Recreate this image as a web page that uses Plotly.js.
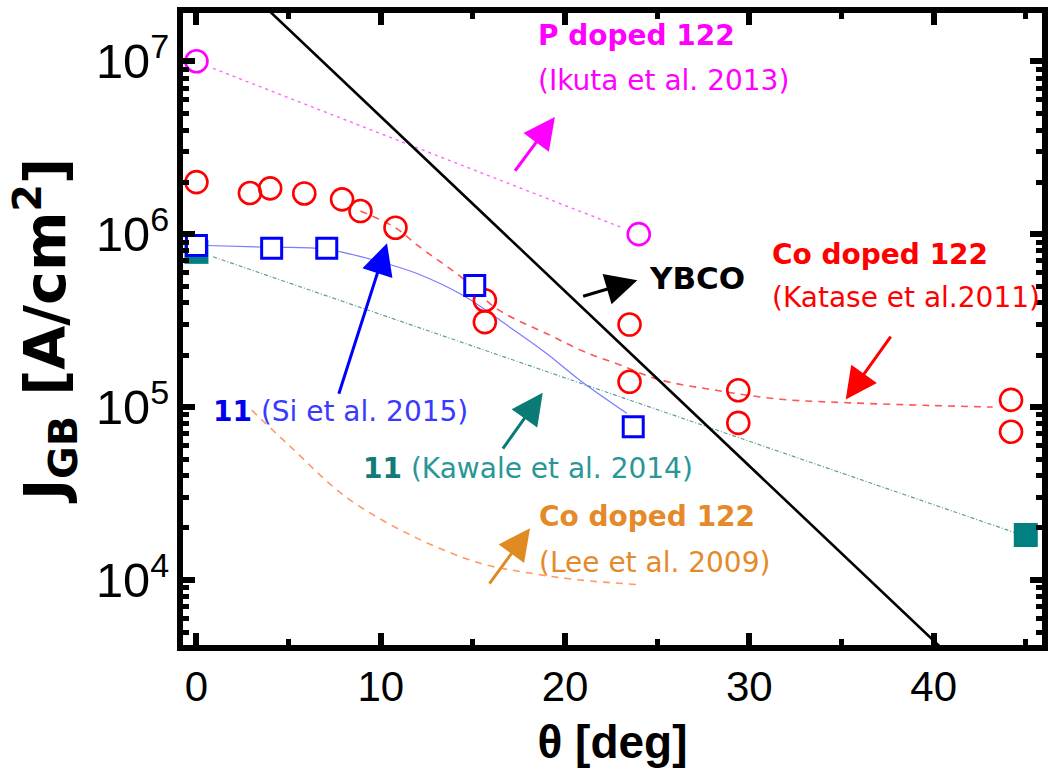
<!DOCTYPE html>
<html>
<head>
<meta charset="utf-8">
<script src="https://cdn.plot.ly/plotly-3.0.1.min.js"></script>
<style>html,body{margin:0;padding:0;background:#fff;}#chart{width:1061px;height:777px;}</style>
</head>
<body>
<div id="chart"></div>
<script>
// ---- data ----
// Co doped 122 (Katase et al. 2011) - red open circles
const kataseX = [0, 2.9, 4.0, 5.85, 7.9, 8.9, 10.8, 15.65, 15.65, 23.5, 23.5, 29.4, 29.4, 44.2, 44.2];
const kataseY = [2.0e6, 1.73e6, 1.84e6, 1.72e6, 1.59e6, 1.36e6, 1.09e6, 4.15e5, 3.1e5, 3.0e5, 1.4e5, 1.25e5, 8.1e4, 1.1e5, 7.2e4];
const kataseFitX = [8.9, 10.8, 12, 14.4, 16.3, 19.2, 21, 23, 25, 28.2, 31.7, 35.3, 40, 43.2];
const kataseFitY = [1.36e6, 1.09e6, 8.6e5, 5.6e5, 3.7e5, 2.6e5, 2.1e5, 1.75e5, 1.45e5, 1.25e5, 1.11e5, 1.06e5, 1.02e5, 1.0e5];

// P doped 122 (Ikuta et al. 2013) - magenta open circles
const ikutaX = [0, 24.0];
const ikutaY = [1.0e7, 1.0e6];
const ikutaFitX = [0.9, 23.1];
const ikutaFitY = [9.1e6, 1.09e6];

// 11 (Si et al. 2015) - blue squares
const siX = [0, 4.08, 7.07, 15.1, 23.7];
const siY = [8.6e5, 8.3e5, 8.3e5, 5.05e5, 7.7e4];
const siFitX = [0.6, 4, 7, 10, 12, 14.5, 17.2, 19, 20.8, 23.35];
const siFitY = [8.6e5, 8.4e5, 8.2e5, 6.9e5, 5.9e5, 4.4e5, 2.8e5, 2.04e5, 1.43e5, 9.2e4];

// 11 (Kawale et al. 2014) - teal filled squares
const kawaleX = [0, 45];
const kawaleY = [7.9e5, 1.82e4];
const kawaleFitX = [0.9, 44.4];
const kawaleFitY = [7.4e5, 1.88e4];

// Co doped 122 (Lee et al. 2009) - orange dashed curve
const leeFitX = [3, 5.1, 8.15, 11.8, 15.4, 18, 20.8, 24];
const leeFitY = [9.6e4, 5.9e4, 3.0e4, 1.78e4, 1.25e4, 1.1e4, 1.0e4, 9.4e3];

// YBCO reference line
const ybcoX = [0, 42];
const ybcoY = [4.9e7, 2.8e3];

// axis ticks
const xTickVals = [0, 10, 20, 30, 40];
const xTickText = ['0', '10', '20', '30', '40'];

// ---- traces ----
const traces = [
  {x: kawaleFitX, y: kawaleFitY, mode: 'lines', line: {color: '#5f9e9e', width: 1.2, dash: '4px,2px,1px,2px'}, hoverinfo: 'skip'},
  {x: leeFitX, y: leeFitY, mode: 'lines', line: {color: '#ff9966', width: 1.6, dash: '7px,6px', shape: 'spline'}, hoverinfo: 'skip'},
  {x: ikutaFitX, y: ikutaFitY, mode: 'lines', line: {color: '#ff66ff', width: 1.4, dash: '3px,4px'}, hoverinfo: 'skip'},
  {x: kataseFitX, y: kataseFitY, mode: 'lines', line: {color: '#ff5555', width: 1.6, dash: '7px,6px', shape: 'spline'}, hoverinfo: 'skip'},
  {x: siFitX, y: siFitY, mode: 'lines', line: {color: '#7a7aff', width: 1.2, shape: 'spline'}, hoverinfo: 'skip'},
  {x: ybcoX, y: ybcoY, mode: 'lines', line: {color: '#000000', width: 2.6}, hoverinfo: 'skip'},
  {x: kawaleX, y: kawaleY, mode: 'markers', marker: {symbol: 'square', size: 24, color: '#008080', line: {width: 0}}},
  {x: kataseX, y: kataseY, mode: 'markers', marker: {symbol: 'circle-open', size: 22, color: '#ff0000', line: {width: 2.6, color: '#ff0000'}}},
  {x: ikutaX, y: ikutaY, mode: 'markers', marker: {symbol: 'circle-open', size: 22, color: '#ff00ff', line: {width: 2.6, color: '#ff00ff'}}},
  {x: siX, y: siY, mode: 'markers', marker: {symbol: 'square', size: 20, color: '#ffffff', line: {width: 3, color: '#0000ff'}}}
];

const L = Math.log10;
const fReg = 'DejaVu Sans, sans-serif';
function txt(x, yv, text, color, size, bold) {
  return {x: x, y: L(yv), xref: 'x', yref: 'y', text: bold ? '<b>' + text + '</b>' : text,
    showarrow: false, xanchor: 'left', yanchor: 'middle',
    font: {family: fReg, size: size, color: color}};
}
function arrow(x, yv, ax, ayv, color) {
  return {x: x, y: L(yv), ax: ax, ay: L(ayv), xref: 'x', yref: 'y', axref: 'x', ayref: 'y',
    text: '', showarrow: true, arrowhead: 2, arrowsize: 2.1, arrowwidth: 3, arrowcolor: color};
}

const annotations = [
  txt(18.45, 1.40e7, 'P doped 122', '#ff00ff', 28, true),
  txt(18.45, 7.76e6, '(Ikuta et al. 2013)', '#ff00ff', 28, false),
  arrow(19.45, 4.76e6, 17.23, 2.28e6, '#ff00ff'),
  txt(24.45, 5.57e5, 'YBCO', '#000000', 31, true),
  arrow(23.92, 5.42e5, 20.9, 4.35e5, '#000000'),
  txt(31.1, 7.66e5, 'Co doped 122', '#ff0000', 28, true),
  txt(31.1, 4.33e5, '(Katase et al.2011)', '#ff0000', 28, false),
  arrow(35.23, 1.107e5, 37.73, 2.61e5, '#ff0000'),
  txt(0.8, 9.4e4, '<b>11</b> <span style="color:#3a3aff">(Si et al. 2015)</span>', '#0000ee', 28, false),
  arrow(10.34, 8.87e5, 7.7, 1.17e5, '#0000ff'),
  txt(8.95, 4.39e4, '<b>11</b> <span style="color:#2a9696">(Kawale et al. 2014)</span>', '#137a7a', 28, false),
  arrow(18.79, 1.21e5, 16.57, 5.64e4, '#0a7a74'),
  txt(18.5, 2.34e4, 'Co doped 122', '#e58a2a', 28, true),
  txt(18.5, 1.26e4, '(Lee et al. 2009)', '#e58a2a', 28, false),
  arrow(18.1, 1.99e4, 15.84, 9.35e3, '#e08a22')
];

const layout = {
  width: 1061, height: 777,
  margin: {l: 183, r: 19, t: 13, b: 132},
  paper_bgcolor: '#ffffff', plot_bgcolor: '#ffffff',
  showlegend: false,
  xaxis: {
    range: [-0.73, 45.88], showgrid: false, zeroline: false,
    showline: true, linecolor: '#000', linewidth: 6, mirror: 'allticks',
    ticks: 'inside', ticklen: 12, tickwidth: 6, tickcolor: '#000',
    tickvals: xTickVals, ticktext: xTickText,
    minor: {ticks: 'inside', ticklen: 6, tickwidth: 5, tickcolor: '#000', dtick: 5, tick0: 0, showgrid: false},
    tickfont: {family: 'Liberation Sans Narrow, Liberation Sans, Arial, sans-serif', size: 42, color: '#000'},
    title: {text: '<b>θ [deg]</b>', font: {family: 'Liberation Sans, Arial, sans-serif', size: 46, color: '#000'}, standoff: 18}
  },
  yaxis: {
    type: 'log', range: [3.624, 7.279], showgrid: false, zeroline: false,
    showline: true, linecolor: '#000', linewidth: 6, mirror: 'allticks',
    ticks: 'inside', ticklen: 12, tickwidth: 6, tickcolor: '#000',
    dtick: 1, exponentformat: 'power',
    minor: {ticks: 'inside', ticklen: 6, tickwidth: 5, tickcolor: '#000', dtick: 'D1', showgrid: false},
    tickfont: {family: 'Liberation Sans, Arial, sans-serif', size: 39, color: '#000'},
    title: {text: '<b>J<sub>GB</sub> [A/cm<sup>2</sup>]</b>', font: {family: fReg, size: 57, color: '#000'}, standoff: 14}
  },
  annotations: annotations
};

Plotly.newPlot('chart', traces, layout, {displayModeBar: false, staticPlot: true});
</script>
</body>
</html>
